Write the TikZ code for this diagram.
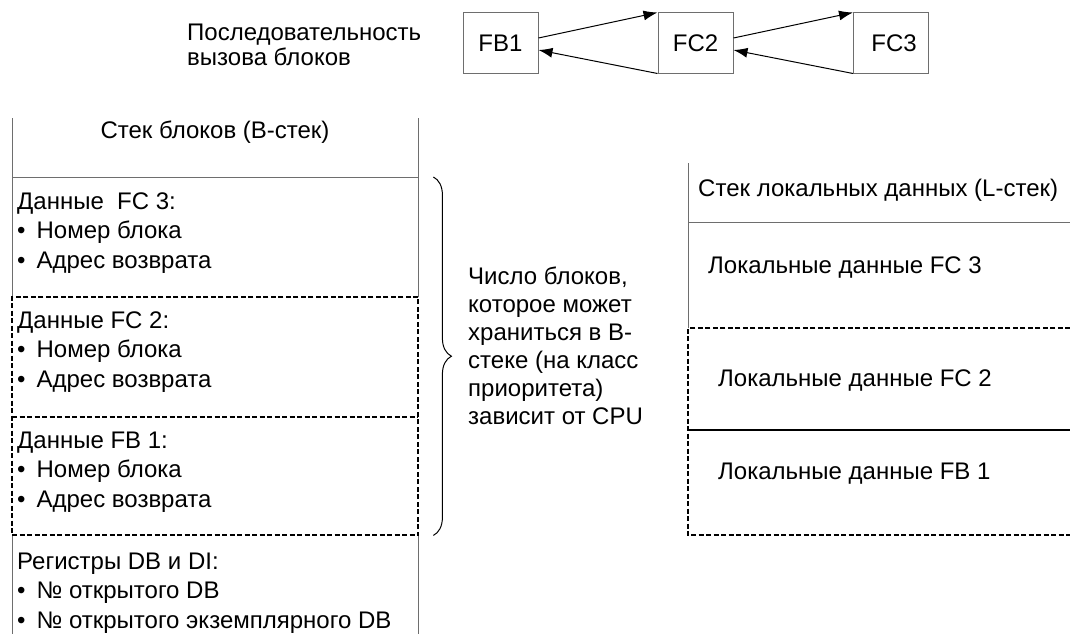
\documentclass[tikz,border=0pt]{standalone}
\usepackage{fontspec}
\setmainfont{Liberation Sans}
\usetikzlibrary{arrows.meta,decorations.pathreplacing}

\definecolor{frameG}{HTML}{6E6E6E}

\newcommand{\dgfont}{\fontsize{24}{29.5}\selectfont}
\newcommand{\bul}{\textbullet\hspace{11pt}}

\begin{document}
\begin{tikzpicture}[x=1pt, y=-1pt,
    callbox/.style={draw=frameG, line width=1pt, minimum width=75pt,
                    minimum height=60pt, inner sep=0pt, font=\dgfont},
    txt/.style={font=\dgfont, align=left, inner sep=0pt, anchor=west},
    sect/.style={minimum width=406pt, inner sep=0pt, anchor=north west},
    lsect/.style={minimum width=382pt, inner sep=0pt, anchor=north west},
    thinline/.style={draw=frameG, line width=1pt},
    dashline/.style={draw=black, line width=2pt, dash pattern=on 5pt off 2.5pt},
    boldline/.style={draw=black, line width=2pt},
    arr/.style={-{Latex[length=14pt,width=10pt]}, line width=1pt},
    brc/.style={decorate, decoration={brace, amplitude=18pt}, line width=1pt},
]
\useasboundingbox (0,0) rectangle (1070,634);

% --- call sequence (top) ---
\node[txt, font=\fontsize{24}{25}\selectfont] (seq) at (187,45)
    {Последовательность\\вызова блоков};

\node[callbox] (fb1) at (500.5,43) {FB1};
\node[callbox] (fc2) at (695.5,43) {FC2};
\node[callbox] (fc3) at (891,43) {\hspace{6pt}FC3};

\draw[arr] ([yshift=5pt]fb1.east) -- (fc2.north west);
\draw[arr] (fc2.south west) -- ([yshift=-7pt]fb1.east);
\draw[arr] ([yshift=5pt]fc2.east) -- (fc3.north west);
\draw[arr] (fc3.south west) -- ([yshift=-7pt]fc2.east);

% --- B-stack (left) ---
\node[sect, minimum height=59pt] (bhead) at (12,118) {};
\node[sect, minimum height=120pt] (bfc3) at (12,177) {};
\node[sect, minimum height=120pt] (bfc2) at (12,297) {};
\node[sect, minimum height=118pt] (bfb1) at (12,417) {};
\node[sect, minimum height=99pt] (breg) at (12,535) {};

\draw[thinline] (bhead.north west) -- (bfc3.south west);
\draw[thinline] (bhead.north east) -- (bfc3.south east);
\draw[thinline] (bhead.south west) -- (bhead.south east);
\draw[thinline] (breg.north west) -- (breg.south west);
\draw[thinline] (breg.north east) -- (breg.south east);
\draw[dashline] (bfc2.north east) -- (bfc2.north west) -- (bfb1.south west)
    -- (bfb1.south east) -- cycle;
\draw[dashline] (bfc2.south west) -- (bfc2.south east);

\node[txt, anchor=center] (tbhead) at (215,132) {Стек блоков (B-стек)};
\node[txt] (tbfc3) at (17,233)
    {Данные~~FC 3:\\\bul Номер блока\\\bul Адрес возврата};
\node[txt] (tbfc2) at (17,352)
    {Данные FC 2:\\\bul Номер блока\\\bul Адрес возврата};
\node[txt] (tbfb1) at (17,472)
    {Данные FB 1:\\\bul Номер блока\\\bul Адрес возврата};
\node[txt] (tbreg) at (17,593)
    {Регистры DB и DI:\\\bul № открытого DB\\\bul № открытого экземплярного DB};

% brace + note
\draw[brc] ([xshift=15pt]bfc3.north east) -- ([xshift=15pt]bfb1.south east);
\node[txt, font=\fontsize{24}{28}\selectfont] (note) at (468,346)
    {Число блоков,\\которое может\\храниться в B-\\стеке (на класс\\приоритета)\\зависит от CPU};

% --- L-stack (right) ---
\node[lsect, minimum height=59pt] (lhead) at (688,163) {};
\node[lsect, minimum height=106pt] (lfc3) at (688,222) {};
\node[lsect, minimum height=102pt] (lfc2) at (688,328) {};
\node[lsect, minimum height=105pt] (lfb1) at (688,430) {};

\draw[thinline] (lhead.north west) -- (lfc3.south west);
\draw[thinline] (lhead.south west) -- (lhead.south east);
\draw[dashline] (lfc3.south east) -- (lfc3.south west) -- (lfb1.south west)
    -- (lfb1.south east);
\draw[boldline] (lfb1.north west) -- (lfb1.north east);

\node[txt] (tlhead) at (698,190) {Стек локальных данных (L-стек)};
\node[txt] (tlfc3) at (708,268) {Локальные данные FC 3};
\node[txt] (tlfc2) at (718,381) {Локальные данные FC 2};
\node[txt] (tlfb1) at (718,474) {Локальные данные FB 1};

\end{tikzpicture}
\end{document}
